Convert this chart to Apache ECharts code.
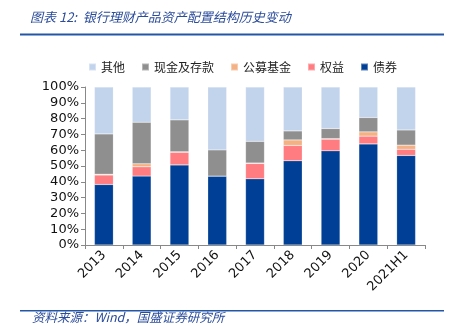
<!DOCTYPE html>
<html>
<head>
<meta charset="utf-8">
<script src="https://cdn.jsdelivr.net/npm/echarts@6/dist/echarts.min.js"></script>
<style>
  html, body { margin: 0; padding: 0; background: #fff; }
  #chart { width: 453px; height: 326px; }
</style>
</head>
<body>
<div id="chart"></div>
<script>
// 银行理财产品资产配置结构（%）
const categories = ['2013', '2014', '2015', '2016', '2017', '2018', '2019', '2020', '2021H1'];
const bonds    = [38.3, 43.6, 50.7, 43.6, 41.9, 53.3, 59.6, 64.0, 56.7];
const equity   = [6.0, 5.9, 8.0, 0.0, 9.7, 9.7, 7.4, 4.9, 3.9];
const funds    = [0.5, 1.9, 0.3, 0.0, 0.3, 3.5, 0.3, 2.7, 2.6];
const cash     = [25.5, 26.3, 20.2, 16.6, 13.7, 5.7, 6.4, 9.1, 9.6];
const others   = [29.7, 22.3, 20.8, 39.8, 34.4, 27.8, 26.3, 19.3, 27.2];
const yTicks = { min: 0, max: 100, interval: 10 };

const cjk = '"Noto Sans CJK SC", "Noto Sans", sans-serif';
const latin = 'Verdana, "DejaVu Sans", sans-serif';

const chart = echarts.init(document.getElementById('chart'), null, { renderer: 'canvas' });

function barSeries(name, data, color) {
  return {
    name: name,
    type: 'bar',
    stack: 'total',
    data: data,
    barWidth: '50%',
    itemStyle: { color: color, borderColor: 'rgba(255,255,255,0.35)', borderWidth: 0.5 }
  };
}

chart.setOption({
  animation: false,
  backgroundColor: '#fff',
  textStyle: { fontFamily: cjk },
  graphic: [
    {
      type: 'text', left: 30, top: 11,
      style: { text: '图表 12:  银行理财产品资产配置结构历史变动', fill: '#2B4C9B',
               font: 'italic 13px ' + cjk }
    },
    {
      type: 'rect', shape: { x: 20, y: 33.5, width: 424, height: 2 },
      style: { fill: '#2356A6' }
    },
    {
      type: 'rect', shape: { x: 20, y: 310, width: 424, height: 1.5 },
      style: { fill: '#2356A6' }
    },
    {
      type: 'text', left: 32, top: 311,
      style: { text: '资料来源：Wind，国盛证券研究所', fill: '#2B4C9B',
               font: 'italic 12.5px ' + cjk }
    }
  ],
  legend: {
    data: ['其他', '现金及存款', '公募基金', '权益', '债券'],
    top: 56,
    left: 83,
    itemWidth: 7,
    itemHeight: 7,
    itemGap: 16,
    icon: 'rect',
    textStyle: { fontSize: 12, color: '#222', fontFamily: cjk }
  },
  grid: { left: 85, right: 28, top: 87, bottom: 81, containLabel: false },
  xAxis: {
    type: 'category',
    data: categories,
    axisLine: { lineStyle: { color: '#888', width: 1 } },
    axisTick: { show: true, length: 4, lineStyle: { color: '#888' } },
    axisLabel: { rotate: 45, color: '#111', fontSize: 13, fontFamily: latin, margin: 8 }
  },
  yAxis: {
    type: 'value',
    min: yTicks.min, max: yTicks.max, interval: yTicks.interval,
    axisLine: { show: true, lineStyle: { color: '#888' } },
    axisTick: { show: true, length: 4, lineStyle: { color: '#888' } },
    splitLine: { show: false },
    axisLabel: { formatter: '{value}%', color: '#111', fontSize: 13, fontFamily: latin, margin: 6 }
  },
  series: [
    barSeries('债券', bonds, '#003F96'),
    barSeries('权益', equity, '#FF7C80'),
    barSeries('公募基金', funds, '#F4B183'),
    barSeries('现金及存款', cash, '#8F8F8F'),
    barSeries('其他', others, '#C2D3EC')
  ]
});
</script>
</body>
</html>
